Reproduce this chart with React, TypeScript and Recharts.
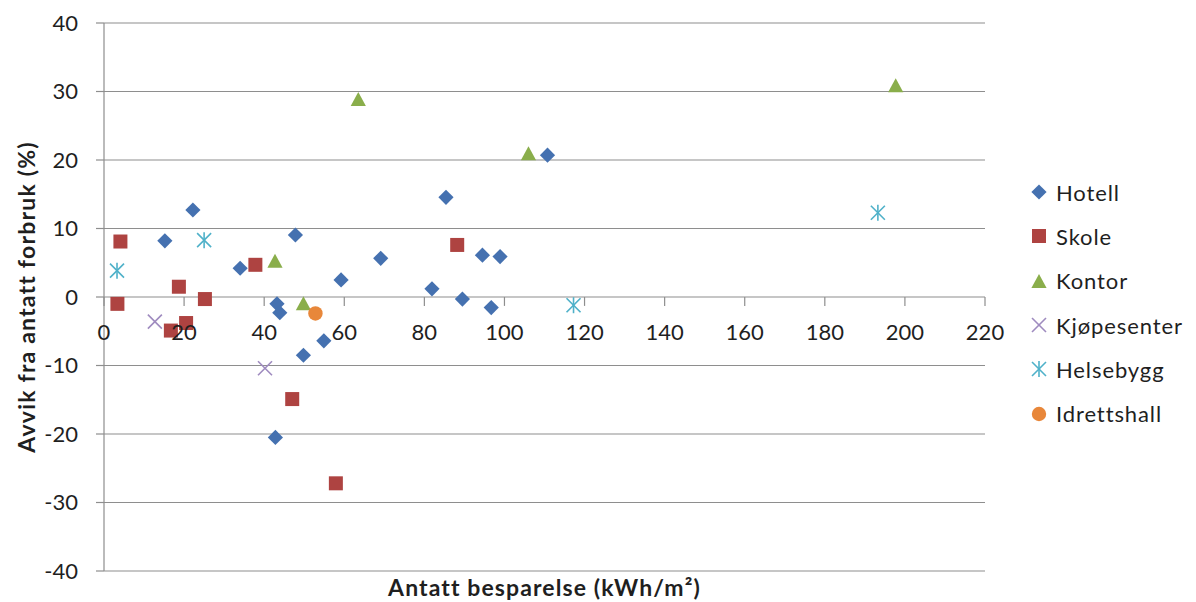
import React from 'react';
import {
  ScatterChart,
  Scatter,
  XAxis,
  YAxis,
  CartesianGrid,
  Legend,
  ReferenceDot,
  ReferenceLine,
} from 'recharts';

// ---- data ----
const hotellX = [15.2, 22.2, 34.0, 43.2, 43.9, 47.8, 49.8, 54.9, 42.8, 59.2, 69.1, 81.9, 85.4, 89.5, 94.5, 98.9, 96.7, 110.75];
const hotellY = [8.2, 12.7, 4.2, -1.0, -2.3, 9.05, -8.5, -6.4, -20.5, 2.5, 5.65, 1.2, 14.55, -0.3, 6.1, 5.9, -1.55, 20.7];

const skoleX = [4.1, 3.35, 18.7, 25.2, 20.5, 16.7, 37.8, 47.0, 57.9, 88.2];
const skoleY = [8.1, -1.0, 1.5, -0.3, -3.8, -4.9, 4.7, -14.9, -27.2, 7.6];

const kontorX = [42.7, 49.8, 63.5, 106.0, 197.7];
const kontorY = [5.3, -0.9, 28.9, 21.0, 30.9];

const kjopX = [12.7, 40.2];
const kjopY = [-3.6, -10.4];

const helseX = [3.25, 25.0, 117.25, 193.25];
const helseY = [3.85, 8.3, -1.2, 12.3];

const idrettX = [52.8];
const idrettY = [-2.4];

const xTicks = [0, 20, 40, 60, 80, 100, 120, 140, 160, 180, 200, 220];
const yTicks = [-40, -30, -20, -10, 0, 10, 20, 30, 40];

const xTitle = 'Antatt besparelse (kWh/m²)';
const yTitle = 'Avvik fra antatt forbruk (%)';

// ---- styles ----
const FONT = 'Lato, "Open Sans", sans-serif';
const TEXT = '#1f1f1f';
const GRID = '#8e8e8e';
const X_TICK_LEN = 1.3; // length of the x tick marks, in y units

type Kind = 'diamond' | 'square' | 'triangle' | 'x' | 'star' | 'circle';

const zip = (xs: number[], ys: number[]) => xs.map((x, i) => ({ x, y: ys[i] }));

const series: { name: string; kind: Kind; color: string; data: { x: number; y: number }[] }[] = [
  { name: 'Hotell', kind: 'diamond', color: '#4571B0', data: zip(hotellX, hotellY) },
  { name: 'Skole', kind: 'square', color: '#AE4341', data: zip(skoleX, skoleY) },
  { name: 'Kontor', kind: 'triangle', color: '#8AAE4B', data: zip(kontorX, kontorY) },
  { name: 'Kjøpesenter', kind: 'x', color: '#9F8BBF', data: zip(kjopX, kjopY) },
  { name: 'Helsebygg', kind: 'star', color: '#4FB1C9', data: zip(helseX, helseY) },
  { name: 'Idrettshall', kind: 'circle', color: '#E8873A', data: zip(idrettX, idrettY) },
];

function Marker({ kind, cx, cy, color }: { kind: Kind; cx: number; cy: number; color: string }) {
  if (cx == null || cy == null) return null;
  switch (kind) {
    case 'diamond': {
      const h = 7.6;
      return <polygon points={`${cx},${cy - h} ${cx + h},${cy} ${cx},${cy + h} ${cx - h},${cy}`} fill={color} />;
    }
    case 'square': {
      const h = 7;
      return <rect x={cx - h} y={cy - h} width={2 * h} height={2 * h} fill={color} />;
    }
    case 'triangle': {
      const w = 7.6;
      const h = 7;
      return <polygon points={`${cx},${cy - h} ${cx + w},${cy + h} ${cx - w},${cy + h}`} fill={color} />;
    }
    case 'x': {
      const h = 7;
      return (
        <g stroke={color} strokeWidth={1.6}>
          <line x1={cx - h} y1={cy - h} x2={cx + h} y2={cy + h} />
          <line x1={cx - h} y1={cy + h} x2={cx + h} y2={cy - h} />
        </g>
      );
    }
    case 'star': {
      const h = 7;
      return (
        <g stroke={color} strokeWidth={1.6}>
          <line x1={cx - h} y1={cy - h} x2={cx + h} y2={cy + h} />
          <line x1={cx - h} y1={cy + h} x2={cx + h} y2={cy - h} />
          <line x1={cx} y1={cy - h - 1} x2={cx} y2={cy + h + 1} />
        </g>
      );
    }
    case 'circle':
    default:
      return <circle cx={cx} cy={cy} r={7.2} fill={color} />;
  }
}

const renderLegend = () => (
  <div
    style={{
      width: 211,
      paddingLeft: 45,
      boxSizing: 'border-box',
      fontFamily: FONT,
      fontSize: 22,
      letterSpacing: 0.9,
      color: TEXT,
    }}
  >
    {series.map((s) => (
      <div key={s.name} style={{ height: 44.3, display: 'flex', alignItems: 'center', whiteSpace: 'nowrap' }}>
        <svg width={18} height={18} style={{ flex: 'none' }}>
          <Marker kind={s.kind} cx={9} cy={9} color={s.color} />
        </svg>
        <span style={{ marginLeft: 8 }}>{s.name}</span>
      </div>
    ))}
  </div>
);

export default function App() {
  return (
    <div style={{ position: 'absolute', left: 0, top: 0, width: 1196, height: 602, background: '#fff' }}>
      <ScatterChart width={1196} height={602} margin={{ top: 23, right: 0, bottom: 1, left: 0 }}>
        <CartesianGrid horizontal vertical={false} stroke={GRID} strokeWidth={1.2} />
        <XAxis
          type="number"
          dataKey="x"
          domain={[0, 220]}
          ticks={xTicks}
          height={30}
          tick={false}
          tickLine={false}
          axisLine={false}
          label={{
            value: xTitle,
            position: 'insideBottom',
            offset: 5,
            style: { fontFamily: FONT, fontWeight: 700, fontSize: 23, letterSpacing: 1.1, fill: TEXT },
          }}
        />
        <YAxis
          type="number"
          dataKey="y"
          domain={[-40, 40]}
          ticks={yTicks}
          interval={0}
          width={104}
          tickSize={8}
          tickMargin={18}
          axisLine={{ stroke: GRID, strokeWidth: 1.2 }}
          tickLine={{ stroke: GRID, strokeWidth: 1.2 }}
          tick={{ fill: TEXT, fontSize: 22, fontFamily: FONT }}
          label={{
            value: yTitle,
            angle: -90,
            position: 'insideLeft',
            offset: 11,
            dx: 16,
            style: { textAnchor: 'middle', fontFamily: FONT, fontWeight: 700, fontSize: 23, letterSpacing: 1.2, fill: TEXT },
          }}
        />
        {xTicks.map((v) => (
          <ReferenceLine
            key={`tl-${v}`}
            segment={[
              { x: v, y: 0 },
              { x: v, y: -X_TICK_LEN },
            ]}
            stroke={GRID}
            strokeWidth={1.2}
          />
        ))}
        {series.map((s) => (
          <Scatter
            key={s.name}
            name={s.name}
            data={s.data}
            fill={s.color}
            isAnimationActive={false}
            shape={(p: any) => <Marker kind={s.kind} cx={p.cx} cy={p.cy} color={s.color} />}
          />
        ))}
        {xTicks.map((v) => (
          <ReferenceDot
            key={`lb-${v}`}
            x={v}
            y={0}
            r={0}
            fill="none"
            stroke="none"
            label={{ value: String(v), position: 'bottom', offset: 27, fill: TEXT, fontSize: 22, fontFamily: FONT }}
          />
        ))}
        <Legend
          layout="vertical"
          align="right"
          verticalAlign="middle"
          content={renderLegend}
          wrapperStyle={{ top: 170, right: 0 }}
        />
      </ScatterChart>
    </div>
  );
}
